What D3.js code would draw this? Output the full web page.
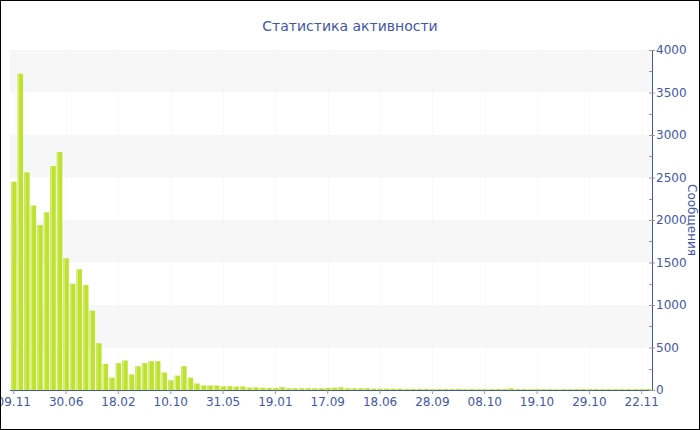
<!DOCTYPE html>
<html>
<head>
<meta charset="utf-8">
<script src="https://cdn.jsdelivr.net/npm/d3@7"></script>
<style>
  html, body { margin: 0; padding: 0; background: #fff; }
  svg { display: block; }
  text { font-family: "DejaVu Sans", Verdana, sans-serif; }
</style>
</head>
<body>
<svg id="chart" width="700" height="430"></svg>
<script>
// Messages per period
const messages = [
  2450, 3720, 2560, 2170, 1940, 2090, 2635, 2800, 1550, 1250,
  1420, 1235, 933, 549, 306, 145, 316, 347, 182, 280,
  316, 339, 339, 206, 114, 169, 280, 145, 76, 53,
  53, 53, 42, 45, 40, 42, 28, 31, 27, 24,
  24, 33, 20, 20, 20, 20, 20, 20, 24, 27,
  31, 20, 20, 20, 20, 16, 16, 16, 16, 16,
  12, 12, 12, 12, 10, 10, 11, 10, 14, 10,
  10, 9, 10, 10, 11, 10, 20, 10, 10, 9,
  10, 10, 10, 9, 10, 10, 11, 10, 10, 10,
  9, 10, 10, 10, 11, 10, 10, 10
];

// Date labels shown on every 8th period
const tickLabels = ["09.11", "30.06", "18.02", "10.10", "31.05", "19.01", "17.09",
                    "18.06", "28.09", "08.10", "19.10", "29.10", "22.11"];
const labelEvery = 8;

const yMajorTicks = [0, 500, 1000, 1500, 2000, 2500, 3000, 3500, 4000];
const yMinorTicks = [250, 750, 1250, 1750, 2250, 2750, 3250, 3750];

const title = "Статистика активности";
const yTitle = "Сообщения";

const axisColor = "#4357a5";
const tickColor = "#9a9a9a";
const barColor = "#bee22f";
const barEdge = "#d9ef86";

const svg = d3.select("#chart");
const W = 700, H = 430;
const plot = { left: 10, right: 652, top: 50, bottom: 390 };

const periods = d3.range(messages.length);

const x = d3.scaleBand()
  .domain(periods)
  .range([plot.left, plot.right])
  .padding(0.15);

const y = d3.scaleLinear()
  .domain([0, 4000])
  .range([plot.bottom, plot.top]);

// alternating background bands
const bandPairs = d3.range(500, 4000, 1000);
svg.append("g").selectAll("rect")
  .data(bandPairs)
  .join("rect")
  .attr("x", plot.left)
  .attr("width", plot.right - plot.left)
  .attr("y", d => y(d + 500))
  .attr("height", d => y(d) - y(d + 500))
  .attr("fill", "#f7f7f7");

// barely visible vertical grid at labelled periods
const labelled = periods.filter(i => i % labelEvery === 0);
svg.append("g").selectAll("line")
  .data(labelled)
  .join("line")
  .attr("x1", d => Math.round(x(d) + x.bandwidth() / 2) + 0.5)
  .attr("x2", d => Math.round(x(d) + x.bandwidth() / 2) + 0.5)
  .attr("y1", plot.top)
  .attr("y2", plot.bottom)
  .attr("stroke", "#f3f3f3")
  .attr("stroke-opacity", 0.6);

// bars
const bars = svg.append("g");
bars.selectAll("rect.bar")
  .data(periods)
  .join("rect")
  .attr("class", "bar")
  .attr("x", i => x(i))
  .attr("width", x.bandwidth())
  .attr("y", i => y(messages[i]))
  .attr("height", i => y(0) - y(messages[i]))
  .attr("fill", barColor);
bars.selectAll("rect.edge")
  .data(periods)
  .join("rect")
  .attr("class", "edge")
  .attr("x", i => x(i) + 0.5)
  .attr("width", 1)
  .attr("y", i => y(messages[i]))
  .attr("height", i => y(0) - y(messages[i]))
  .attr("fill", barEdge);

// x axis
const xAxis = d3.axisBottom(x)
  .tickValues(labelled)
  .tickFormat(i => tickLabels[i / labelEvery])
  .tickSize(4)
  .tickPadding(3);
const gx = svg.append("g")
  .attr("transform", `translate(0,${plot.bottom})`)
  .call(xAxis);
gx.select(".domain").attr("stroke", axisColor).attr("d", `M${plot.left},0.5H${plot.right}`);
gx.selectAll(".tick line").attr("stroke", tickColor);
gx.selectAll(".tick text").attr("fill", axisColor).attr("font-size", 12)
  .attr("font-family", "DejaVu Sans, Verdana, sans-serif");

// y axis on the right
const yAxis = d3.axisRight(y)
  .tickValues(yMajorTicks)
  .tickFormat(d3.format("d"))
  .tickSize(3)
  .tickPadding(1);
const gy = svg.append("g")
  .attr("transform", `translate(${plot.right},0)`)
  .call(yAxis);
gy.select(".domain").attr("stroke", axisColor).attr("d", `M0.5,${plot.top}V${plot.bottom}`);
gy.selectAll(".tick line").attr("stroke", tickColor).attr("x1", -3);
gy.selectAll(".tick text").attr("fill", axisColor).attr("font-size", 12)
  .attr("font-family", "DejaVu Sans, Verdana, sans-serif");

// minor ticks
svg.append("g").selectAll("line")
  .data(yMinorTicks)
  .join("line")
  .attr("x1", plot.right - 3)
  .attr("x2", plot.right)
  .attr("y1", d => Math.round(y(d)) + 0.5)
  .attr("y2", d => Math.round(y(d)) + 0.5)
  .attr("stroke", tickColor);

// titles
svg.append("text")
  .attr("x", 350)
  .attr("y", 31)
  .attr("text-anchor", "middle")
  .attr("font-size", 14)
  .attr("fill", axisColor)
  .text(title);

svg.append("text")
  .attr("transform", `translate(688,220) rotate(90)`)
  .attr("text-anchor", "middle")
  .attr("font-size", 12)
  .attr("fill", axisColor)
  .text(yTitle);

// outer frame
svg.append("rect")
  .attr("x", 0.5).attr("y", 0.5)
  .attr("width", W - 1).attr("height", H - 1)
  .attr("fill", "none")
  .attr("stroke", "#000");
</script>
</body>
</html>
